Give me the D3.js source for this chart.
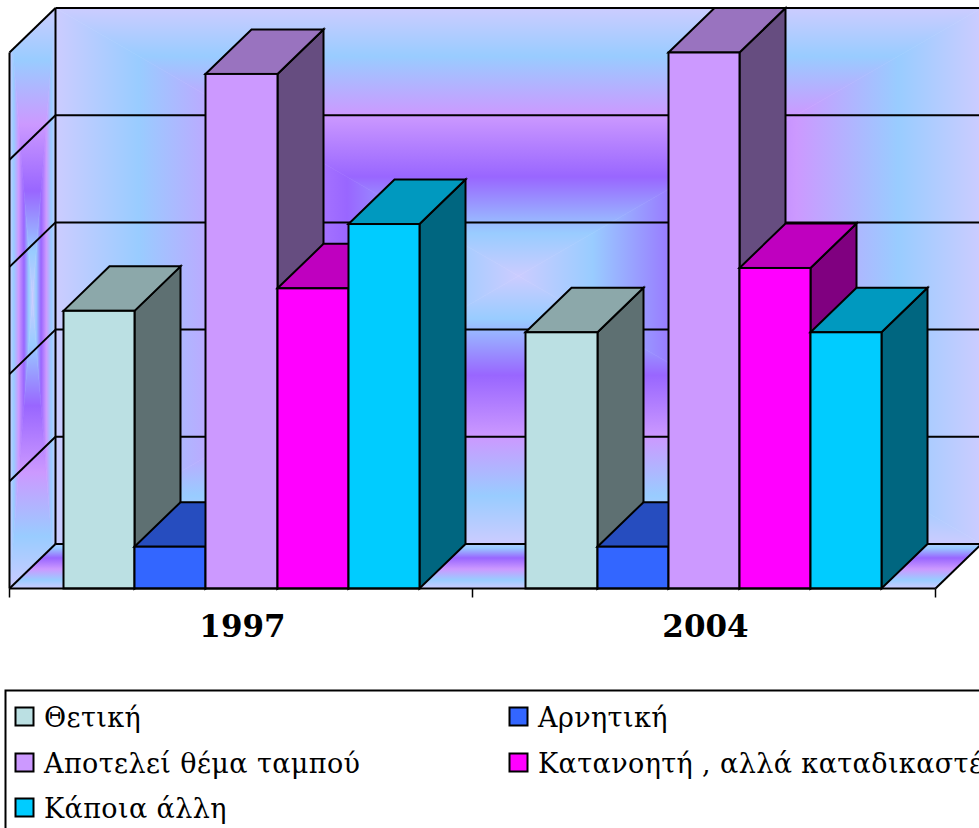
<!DOCTYPE html>
<html lang="el">
<head>
<meta charset="utf-8">
<script src="https://cdn.jsdelivr.net/npm/d3@7"></script>
<style>
html,body{margin:0;padding:0;background:#fff;overflow:hidden}
svg{display:block}
text{font-family:"DejaVu Serif",serif;fill:#000}
</style>
</head>
<body>
<script>
// ---- data ----
const categories = ["1997", "2004"];
const seriesNames = ["Θετική", "Αρνητική", "Αποτελεί θέμα ταμπού", "Κατανοητή , αλλά καταδικαστέα", "Κάποια άλλη"];
const thetiki = [25.9, 23.9];
const arnitiki = [3.9, 3.9];
const tampou = [48, 50];
const katanoiti = [28, 29.9];
const kapoia = [34, 23.9];
const seriesValues = [thetiki, arnitiki, tampou, katanoiti, kapoia];
const yTicks = [0, 10, 20, 30, 40, 50];
const frontColors = ["#BBE0E3", "#3366FF", "#CC99FF", "#FF00FF", "#00CCFF"];

// ---- layout ----
const W = 979, H = 828, DX = 46, DY = 44.5;
const svg = d3.select("body").append("svg").attr("width", W).attr("height", H).attr("viewBox", [0, 0, W, H]);
const defs = svg.append("defs");

const x0 = d3.scaleBand().domain(categories).range([9.5, 935.5]);
const x1 = d3.scaleBand().domain(d3.range(seriesNames.length)).range([0, x0.bandwidth()]).paddingOuter(0.751).paddingInner(0);
const y = d3.scaleLinear().domain([0, 50]).range([588.5, 52.5]);

const snap = v => Math.round(v) + 0.5;
const pts = a => a.map(p => p.join(",")).join(" ");

const wallStops = [[0, "#CCCCFF"], [.18, "#99CCFF"], [.4, "#CC99FF"], [.63, "#9966FF"], [.84, "#99CCFF"], [1, "#CCCCFF"]];

function grad(id, x1_, y1_, x2_, y2_) {
  const g = defs.append("linearGradient").attr("id", id).attr("gradientUnits", "userSpaceOnUse")
    .attr("x1", x1_).attr("y1", y1_).attr("x2", x2_).attr("y2", y2_);
  g.selectAll("stop").data(wallStops).join("stop")
    .attr("offset", d => d[0]).attr("stop-color", d => d[1]);
}

// rectangular "from centre" gradient made from four mitred triangles
function boxGradient(parent, id, l, t, r, b) {
  const cx = (l + r) / 2, cy = (t + b) / 2;
  grad(id + "T", 0, t, 0, cy);
  grad(id + "B", 0, b, 0, cy);
  grad(id + "L", l, 0, cx, 0);
  grad(id + "R", r, 0, cx, 0);
  const tris = [
    ["T", [[l, t], [r, t], [cx, cy]]],
    ["B", [[l, b], [r, b], [cx, cy]]],
    ["L", [[l, t], [l, b], [cx, cy]]],
    ["R", [[r, t], [r, b], [cx, cy]]]
  ];
  parent.selectAll("polygon").data(tris).join("polygon")
    .attr("points", d => pts(d[1]))
    .attr("fill", d => `url(#${id}${d[0]})`)
    .attr("stroke", d => `url(#${id}${d[0]})`).attr("stroke-width", 0.6);
}

const xL = x0.range()[0], xR = x0.range()[1];
const y0 = y(0), yMax = y(50);

// back wall
boxGradient(svg.append("g"), "back", xL + DX, yMax - DY, xR + DX, y0 - DY);

// side wall (gradient in its bounding box, clipped to the parallelogram)
defs.append("clipPath").attr("id", "sideClip").append("polygon")
  .attr("points", pts([[xL, yMax], [xL + DX, yMax - DY], [xL + DX, y0 - DY], [xL, y0]]));
boxGradient(svg.append("g").attr("clip-path", "url(#sideClip)"), "side", xL, yMax - DY, xL + DX, y0);

// floor
grad("floor", 0, y0, 0, y0 - DY - 4);
svg.append("polygon")
  .attr("points", pts([[xL, y0], [xR, y0], [xR + DX, y0 - DY], [xL + DX, y0 - DY]]))
  .attr("fill", "url(#floor)");

// gridlines
const lines = svg.append("g").attr("stroke", "#000").attr("stroke-width", 2).attr("fill", "none");
lines.selectAll(".grid").data(yTicks).join("line").attr("class", "grid")
  .attr("x1", xL + DX).attr("x2", xR + DX).attr("y1", d => y(d) - DY).attr("y2", d => y(d) - DY);
lines.selectAll(".gridSide").data(yTicks).join("line").attr("class", "gridSide")
  .attr("x1", xL).attr("x2", xL + DX).attr("y1", d => y(d)).attr("y2", d => y(d) - DY);
lines.append("line").attr("x1", xL).attr("x2", xL).attr("y1", yMax).attr("y2", y0);
lines.append("line").attr("x1", xL + DX).attr("x2", xL + DX).attr("y1", yMax - DY).attr("y2", y0 - DY);
lines.append("line").attr("x1", xR).attr("x2", xR + DX).attr("y1", y0).attr("y2", y0 - DY);

// bars, painted left to right
const shade = (c, k) => { const r = d3.rgb(c); return d3.rgb(r.r * k, r.g * k, r.b * k).formatHex(); };
const barG = svg.append("g").attr("stroke", "#000").attr("stroke-width", 2).attr("stroke-linejoin", "miter");
categories.forEach((cat, ci) => {
  const groupX = x0(cat) - ci * 0.6;
  seriesNames.forEach((_, si) => {
    const v = seriesValues[si][ci];
    const a = snap(groupX + x1(si)), b = snap(groupX + x1(si) + x1.bandwidth());
    const t = y(v), base = y0;
    const g = barG.append("g");
    g.append("polygon").attr("fill", shade(frontColors[si], .5))
      .attr("points", pts([[b, t], [b + DX, t - DY], [b + DX, base - DY], [b, base]]));
    g.append("polygon").attr("fill", shade(frontColors[si], .75))
      .attr("points", pts([[a, t], [a + DX, t - DY], [b + DX, t - DY], [b, t]]));
    g.append("rect").attr("fill", frontColors[si])
      .attr("x", a).attr("y", t).attr("width", b - a).attr("height", base - t);
  });
});

// category axis
const axis = svg.append("g");
axis.append("line").attr("x1", xL).attr("x2", xR).attr("y1", y0).attr("y2", y0).attr("stroke", "#000").attr("stroke-width", 2);
const tickXs = categories.map(c => x0(c)).concat([xR]);
axis.selectAll(".tick").data(tickXs).join("line").attr("class", "tick")
  .attr("x1", d => d).attr("x2", d => d).attr("y1", y0).attr("y2", y0 + 9)
  .attr("stroke", "#000").attr("stroke-width", 1.5);
axis.selectAll(".lab").data(categories).join("text").attr("class", "lab")
  .attr("x", d => x0(d) + x0.bandwidth() / 2 + 1.5).attr("y", 637)
  .attr("text-anchor", "middle").attr("font-size", 31).attr("font-weight", 700).text(d => d);

// legend
const legend = svg.append("g");
legend.append("rect").attr("x", 5.5).attr("y", 690.5).attr("width", 1100).attr("height", 300)
  .attr("fill", "#fff").attr("stroke", "#000").attr("stroke-width", 2);
const legendCols = [15.5, 509.5], legendRows = [707.5, 753.5, 798.5];
const items = legend.selectAll(".item").data(seriesNames).join("g").attr("class", "item")
  .attr("transform", (d, i) => `translate(${legendCols[i % 2]},${legendRows[Math.floor(i / 2)]})`);
items.append("rect").attr("width", 18).attr("height", 18)
  .attr("fill", (d, i) => frontColors[i]).attr("stroke", "#000").attr("stroke-width", 2);
items.append("text").attr("x", 28.5).attr("y", 19.5).attr("font-size", 27).attr("letter-spacing", 0.4).text(d => d);
</script>
</body>
</html>
